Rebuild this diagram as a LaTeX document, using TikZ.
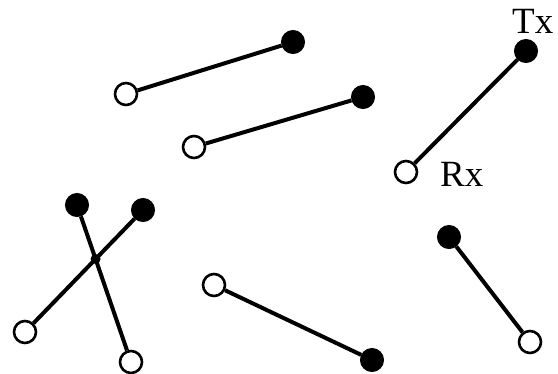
\documentclass[tikz,border=0pt]{standalone}
\usepackage{fontspec}
\setmainfont{Liberation Serif}
\begin{document}
\begin{tikzpicture}[x=1pt,y=-1pt,
  tx/.style={circle,fill=black,draw=black,line width=1pt,minimum size=23pt,inner sep=0pt},
  rx/.style={circle,fill=white,draw=black,line width=2.6pt,minimum size=22pt,inner sep=0pt},
  link/.style={line width=4pt},
  lbl/.style={font=\fontsize{37}{37}\selectfont,inner sep=0pt,anchor=base west}]
\useasboundingbox (0,0) rectangle (558,373);
% link 1
\node[tx] (t1) at (293,42) {};
\node[rx] (r1) at (126,94) {};
\draw[link] (r1) -- (t1);
% link 2
\node[tx] (t2) at (363,97) {};
\node[rx] (r2) at (194,147) {};
\draw[link] (r2) -- (t2);
% link 3
\node[tx] (t3) at (526,51) {};
\node[rx] (r3) at (406,172) {};
\draw[link] (r3) -- (t3);
\node[lbl] (tx) at (512,33) {Tx};
\node[lbl] (rxl) at (440,186) {Rx};
% link 4 and 5 crossing
\node[tx] (t4) at (77,205) {};
\node[rx] (r4) at (131,362) {};
\node[tx] (t5) at (143,210) {};
\node[rx] (r5) at (25,332) {};
\draw[link] (t4) -- (r4);
\draw[link] (r5) -- (t5);
\fill (intersection of 77,205--131,362 and 25,332--143,210) circle (5pt);
% link 6
\node[tx] (t6) at (372,360) {};
\node[rx] (r6) at (214,285) {};
\draw[link] (r6) -- (t6);
% link 7
\node[tx] (t7) at (449,237) {};
\node[rx] (r7) at (530,342) {};
\draw[link] (t7) -- (r7);
\end{tikzpicture}
\end{document}
